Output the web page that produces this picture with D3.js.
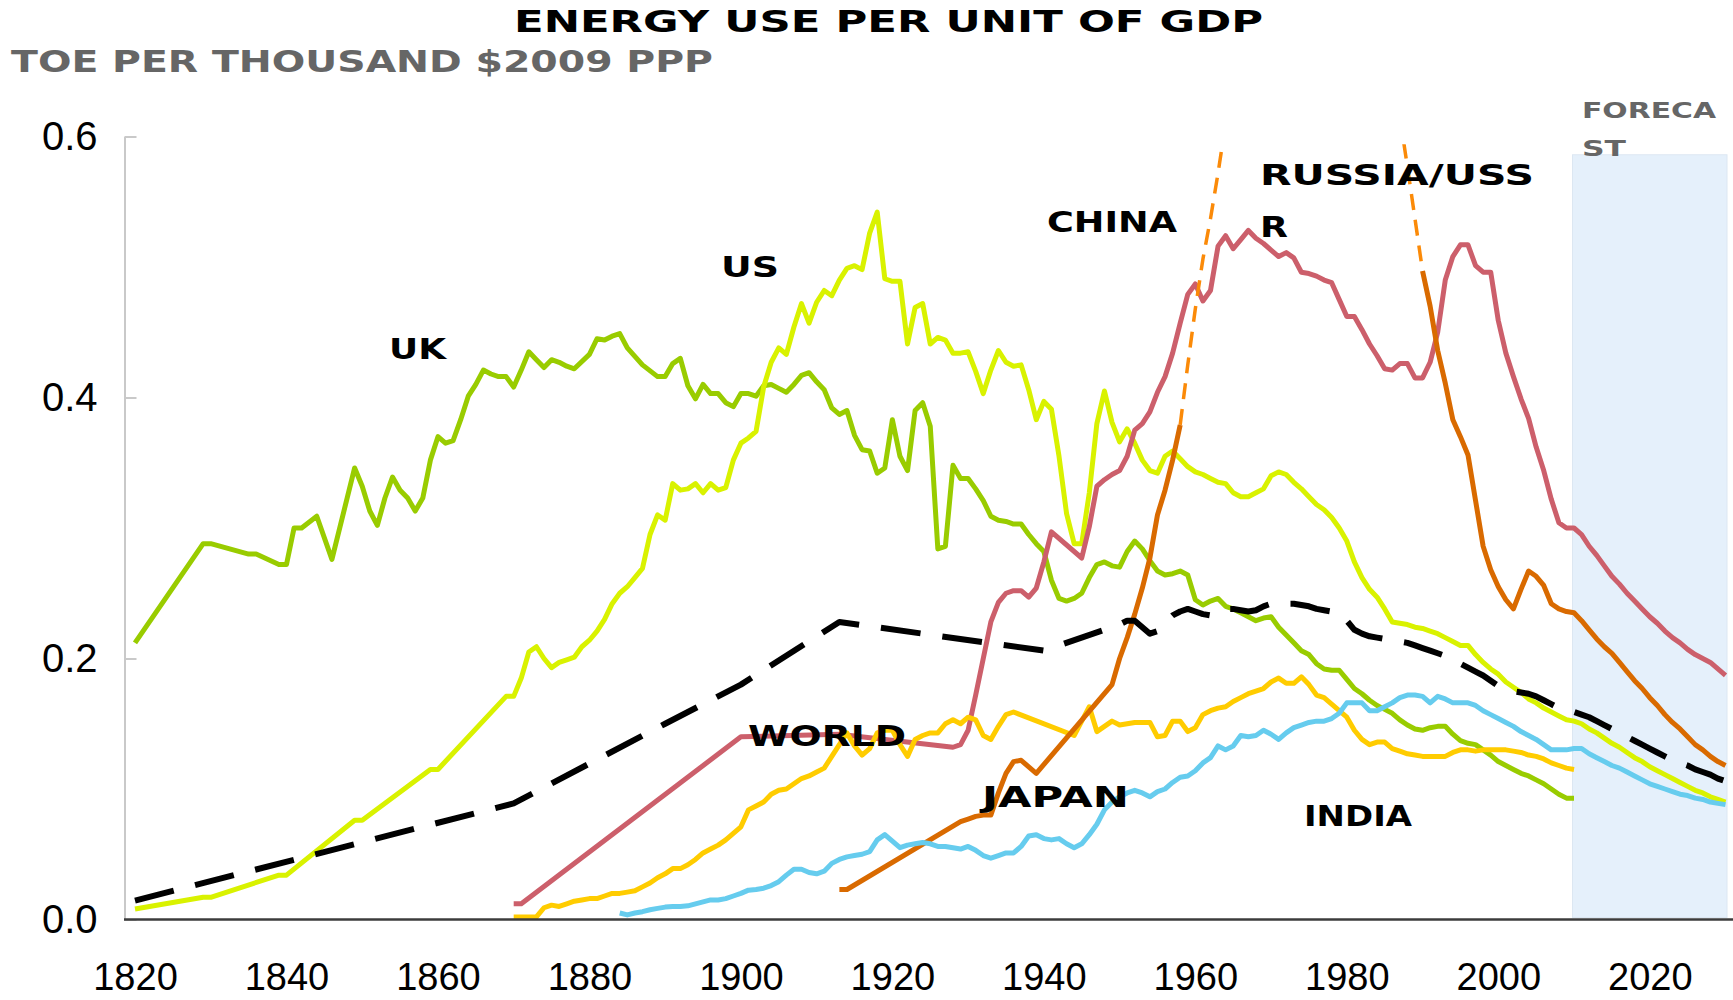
<!DOCTYPE html>
<html>
<head>
<meta charset="utf-8">
<title>Energy use per unit of GDP</title>
<script src="https://cdn.jsdelivr.net/npm/d3@7/dist/d3.min.js"></script>
<style>
  body { margin: 0; background: #fff; }
  .tick text { font-family: "Liberation Sans", Arial, sans-serif; font-size: 38px; fill: #000; }
  .block { font-family: "DejaVu Sans", sans-serif; font-weight: bold; }
</style>
</head>
<body>
<script>
// ---- data: [year, toe per thousand $2009 PPP] ----
const uk = [[1820,.212],[1829,.288],[1830,.288],[1835,.280],[1836,.280],[1839,.272],[1840,.272],[1841,.300],[1842,.300],[1844,.309],[1846,.276],[1849,.346],[1850,.332],[1851,.313],[1852,.302],[1853,.323],[1854,.339],[1855,.329],[1856,.323],[1857,.313],[1858,.323],[1859,.352],[1860,.370],[1861,.365],[1862,.367],[1863,.383],[1864,.401],[1865,.410],[1866,.421],[1867,.418],[1868,.416],[1869,.416],[1870,.408],[1871,.421],[1872,.435],[1873,.429],[1874,.423],[1875,.429],[1876,.427],[1877,.424],[1878,.422],[1880,.433],[1881,.445],[1882,.444],[1883,.447],[1884,.449],[1885,.438],[1887,.425],[1889,.416],[1890,.416],[1891,.426],[1892,.430],[1893,.409],[1894,.399],[1895,.410],[1896,.403],[1897,.403],[1898,.396],[1899,.393],[1900,.403],[1901,.403],[1902,.401],[1903,.409],[1904,.410],[1905,.407],[1906,.404],[1907,.410],[1908,.417],[1909,.419],[1910,.412],[1911,.406],[1912,.392],[1913,.387],[1914,.390],[1915,.371],[1916,.360],[1917,.359],[1918,.342],[1919,.346],[1920,.383],[1921,.355],[1922,.344],[1923,.390],[1924,.396],[1925,.378],[1926,.284],[1927,.286],[1928,.348],[1929,.338],[1930,.338],[1931,.330],[1932,.321],[1933,.309],[1934,.306],[1935,.305],[1936,.303],[1937,.303],[1938,.295],[1939,.288],[1940,.282],[1941,.260],[1942,.246],[1943,.244],[1944,.246],[1945,.250],[1946,.262],[1947,.272],[1948,.274],[1949,.271],[1950,.270],[1951,.282],[1952,.290],[1953,.284],[1954,.275],[1955,.267],[1956,.264],[1957,.265],[1958,.267],[1959,.264],[1960,.245],[1961,.241],[1962,.244],[1963,.246],[1964,.240],[1965,.238],[1966,.235],[1967,.232],[1968,.229],[1969,.231],[1970,.232],[1971,.224],[1972,.218],[1973,.212],[1974,.206],[1975,.203],[1976,.196],[1977,.192],[1978,.191],[1979,.191],[1980,.184],[1981,.177],[1982,.173],[1983,.168],[1984,.164],[1985,.161],[1986,.158],[1987,.153],[1988,.149],[1989,.146],[1990,.145],[1991,.147],[1992,.148],[1993,.148],[1994,.142],[1995,.137],[1996,.135],[1997,.134],[1998,.130],[1999,.126],[2000,.121],[2001,.118],[2002,.115],[2003,.112],[2004,.110],[2005,.107],[2006,.104],[2007,.100],[2008,.096],[2009,.093],[2010,.093]];

const us = [[1820,.008],[1829,.017],[1830,.017],[1839,.034],[1840,.034],[1849,.076],[1850,.076],[1859,.115],[1860,.115],[1869,.171],[1870,.171],[1871,.185],[1872,.205],[1873,.209],[1874,.200],[1875,.193],[1876,.197],[1877,.199],[1878,.201],[1879,.209],[1880,.214],[1881,.221],[1882,.230],[1883,.242],[1884,.250],[1885,.255],[1886,.262],[1887,.269],[1888,.295],[1889,.310],[1890,.306],[1891,.334],[1892,.329],[1893,.330],[1894,.334],[1895,.327],[1896,.334],[1897,.329],[1898,.331],[1899,.352],[1900,.365],[1901,.369],[1902,.374],[1903,.408],[1904,.427],[1905,.438],[1906,.433],[1907,.454],[1908,.472],[1909,.457],[1910,.473],[1911,.482],[1912,.478],[1913,.490],[1914,.499],[1915,.501],[1916,.498],[1917,.526],[1918,.542],[1919,.491],[1920,.489],[1921,.489],[1922,.441],[1923,.469],[1924,.472],[1925,.441],[1926,.446],[1927,.444],[1928,.434],[1929,.434],[1930,.435],[1931,.420],[1932,.403],[1933,.421],[1934,.436],[1935,.427],[1936,.424],[1937,.425],[1938,.406],[1939,.383],[1940,.397],[1941,.391],[1942,.355],[1943,.311],[1944,.288],[1945,.288],[1946,.327],[1947,.380],[1948,.405],[1949,.381],[1950,.366],[1951,.376],[1952,.365],[1953,.352],[1954,.344],[1955,.342],[1956,.355],[1957,.359],[1958,.353],[1959,.347],[1960,.343],[1961,.341],[1962,.338],[1963,.335],[1964,.334],[1965,.327],[1966,.324],[1967,.324],[1968,.327],[1969,.330],[1970,.340],[1971,.343],[1972,.341],[1973,.335],[1974,.330],[1975,.324],[1976,.318],[1977,.314],[1978,.308],[1979,.300],[1980,.290],[1981,.274],[1982,.262],[1983,.253],[1984,.247],[1985,.238],[1986,.228],[1987,.227],[1988,.226],[1989,.224],[1990,.223],[1991,.221],[1992,.219],[1993,.216],[1994,.213],[1995,.210],[1996,.210],[1997,.203],[1998,.197],[1999,.192],[2000,.188],[2001,.182],[2002,.178],[2003,.174],[2004,.169],[2005,.166],[2006,.162],[2007,.159],[2008,.156],[2009,.153],[2010,.152],[2011,.150],[2012,.146],[2013,.143],[2014,.139],[2015,.135],[2016,.132],[2017,.128],[2018,.124],[2019,.121],[2020,.117],[2021,.114],[2022,.111],[2023,.108],[2024,.105],[2025,.102],[2026,.099],[2027,.097],[2028,.094],[2029,.092],[2030,.090]];

const russia = [[1870,.012],[1871,.012],[1900,.140],[1913,.142],[1928,.132],[1929,.134],[1930,.145],[1931,.172],[1932,.200],[1933,.228],[1934,.243],[1935,.250],[1936,.252],[1937,.252],[1938,.247],[1939,.254],[1940,.274],[1941,.297],[1945,.277],[1946,.301],[1947,.332],[1948,.337],[1949,.341],[1950,.344],[1951,.355],[1952,.375],[1953,.380],[1954,.389],[1955,.404],[1956,.416],[1957,.434],[1958,.457],[1959,.479],[1960,.487],[1961,.474],[1962,.482],[1963,.516],[1964,.524],[1965,.514],[1966,.521],[1967,.528],[1968,.522],[1969,.518],[1970,.513],[1971,.508],[1972,.511],[1973,.507],[1974,.496],[1975,.495],[1976,.493],[1977,.490],[1978,.488],[1979,.475],[1980,.462],[1981,.462],[1982,.452],[1983,.441],[1984,.432],[1985,.422],[1986,.421],[1987,.426],[1988,.426],[1989,.415],[1990,.415],[1991,.427],[1992,.450],[1993,.490],[1994,.508],[1995,.517],[1996,.517],[1997,.501],[1998,.496],[1999,.496],[2000,.459],[2001,.434],[2002,.416],[2003,.399],[2004,.384],[2005,.362],[2006,.344],[2007,.322],[2008,.304],[2009,.300],[2010,.300],[2011,.295],[2012,.286],[2013,.279],[2014,.271],[2015,.263],[2016,.257],[2017,.250],[2018,.244],[2019,.238],[2020,.232],[2021,.227],[2022,.221],[2023,.216],[2024,.212],[2025,.207],[2026,.203],[2027,.200],[2028,.197],[2029,.192],[2030,.187]];

const chinaEarly = [[1913,.023],[1914,.023],[1929,.075],[1930,.077],[1931,.079],[1932,.080],[1933,.080],[1934,.097],[1935,.112],[1936,.121],[1937,.122],[1938,.117],[1939,.112],[1949,.180],[1950,.200],[1951,.216],[1952,.234],[1953,.254],[1954,.277],[1955,.310],[1956,.329],[1957,.352],[1958,.379]];
const chinaLeap = [[1958,.379],[1959,.425],[1960,.468],[1961,.506],[1962,.537],[1963,.572],[1964,.610]];
const chinaReturn = [[1987,.615],[1988,.577],[1989,.537],[1990,.497]];
const chinaLate = [[1990,.497],[1991,.470],[1992,.436],[1993,.411],[1994,.383],[1995,.370],[1996,.356],[1997,.321],[1998,.286],[1999,.268],[2000,.255],[2001,.245],[2002,.238],[2003,.253],[2004,.267],[2005,.263],[2006,.256],[2007,.242],[2008,.238],[2009,.236],[2010,.235],[2011,.229],[2012,.222],[2013,.215],[2014,.209],[2015,.204],[2016,.197],[2017,.190],[2018,.183],[2019,.177],[2020,.170],[2021,.164],[2022,.157],[2023,.151],[2024,.146],[2025,.140],[2026,.134],[2027,.130],[2028,.125],[2029,.121],[2030,.118]];

const japan = [[1870,.002],[1873,.002],[1874,.009],[1875,.011],[1876,.010],[1877,.012],[1878,.014],[1879,.015],[1880,.016],[1881,.016],[1882,.018],[1883,.020],[1884,.020],[1885,.021],[1886,.022],[1887,.025],[1888,.028],[1889,.032],[1890,.035],[1891,.039],[1892,.039],[1893,.042],[1894,.046],[1895,.051],[1896,.054],[1897,.057],[1898,.061],[1899,.066],[1900,.071],[1901,.084],[1902,.087],[1903,.090],[1904,.096],[1905,.099],[1906,.100],[1907,.104],[1908,.108],[1909,.110],[1910,.113],[1911,.116],[1912,.125],[1913,.134],[1914,.143],[1915,.133],[1916,.126],[1917,.131],[1918,.143],[1919,.145],[1920,.145],[1921,.134],[1922,.125],[1923,.138],[1924,.141],[1925,.143],[1926,.143],[1927,.150],[1928,.153],[1929,.150],[1930,.155],[1931,.153],[1932,.141],[1933,.138],[1934,.148],[1935,.157],[1936,.159],[1944,.141],[1945,.152],[1946,.163],[1947,.144],[1948,.148],[1949,.152],[1950,.149],[1951,.150],[1952,.151],[1953,.151],[1954,.151],[1955,.140],[1956,.141],[1957,.152],[1958,.152],[1959,.144],[1960,.147],[1961,.157],[1962,.160],[1963,.162],[1964,.163],[1965,.167],[1966,.170],[1967,.173],[1968,.175],[1969,.177],[1970,.182],[1971,.185],[1972,.181],[1973,.181],[1974,.186],[1975,.180],[1976,.172],[1977,.170],[1978,.165],[1979,.160],[1980,.155],[1981,.145],[1982,.138],[1983,.134],[1984,.136],[1985,.136],[1986,.131],[1987,.129],[1988,.127],[1989,.126],[1990,.125],[1991,.125],[1992,.125],[1993,.125],[1994,.128],[1995,.130],[1996,.130],[1997,.129],[1998,.130],[1999,.130],[2000,.130],[2001,.130],[2002,.129],[2003,.128],[2004,.126],[2005,.125],[2006,.123],[2007,.120],[2008,.118],[2009,.116],[2010,.115]];

const india = [[1884,.005],[1885,.0035],[1886,.005],[1887,.006],[1888,.0075],[1889,.0085],[1890,.0095],[1891,.010],[1892,.010],[1893,.0105],[1894,.012],[1895,.0135],[1896,.015],[1897,.015],[1898,.016],[1899,.018],[1900,.020],[1901,.0225],[1902,.023],[1903,.024],[1904,.026],[1905,.029],[1906,.034],[1907,.0385],[1908,.0385],[1909,.036],[1910,.035],[1911,.037],[1912,.043],[1913,.046],[1914,.048],[1915,.049],[1916,.050],[1917,.052],[1918,.061],[1919,.065],[1920,.060],[1921,.055],[1922,.057],[1923,.058],[1924,.059],[1925,.058],[1926,.056],[1927,.056],[1928,.055],[1929,.054],[1930,.056],[1931,.053],[1932,.049],[1933,.047],[1934,.049],[1935,.051],[1936,.051],[1937,.056],[1938,.064],[1939,.065],[1940,.062],[1941,.061],[1942,.062],[1943,.058],[1944,.055],[1945,.058],[1946,.065],[1947,.073],[1948,.084],[1949,.090],[1950,.094],[1951,.097],[1952,.099],[1953,.097],[1954,.094],[1955,.098],[1956,.100],[1957,.105],[1958,.109],[1959,.110],[1960,.114],[1961,.120],[1962,.124],[1963,.133],[1964,.130],[1965,.133],[1966,.141],[1967,.140],[1968,.141],[1969,.145],[1970,.142],[1971,.138],[1972,.143],[1973,.147],[1974,.149],[1975,.151],[1976,.152],[1977,.152],[1978,.154],[1979,.158],[1980,.166],[1981,.166],[1982,.166],[1983,.160],[1984,.160],[1985,.163],[1986,.166],[1987,.170],[1988,.172],[1989,.172],[1990,.171],[1991,.166],[1992,.171],[1993,.169],[1994,.166],[1995,.166],[1996,.166],[1997,.164],[1998,.160],[1999,.157],[2000,.154],[2001,.151],[2002,.148],[2003,.144],[2004,.141],[2005,.138],[2006,.134],[2007,.130],[2008,.130],[2009,.130],[2010,.131],[2011,.131],[2012,.127],[2013,.124],[2014,.121],[2015,.118],[2016,.116],[2017,.113],[2018,.110],[2019,.107],[2020,.104],[2021,.102],[2022,.100],[2023,.098],[2024,.096],[2025,.095],[2026,.093],[2027,.092],[2028,.090],[2029,.089],[2030,.088]];

const world = [[1820,.0145],[1870,.089],[1890,.150],[1900,.180],[1913,.228],[1940,.206],[1950,.226],[1951,.229],[1952,.229],[1953,.224],[1954,.219],[1955,.221],[1956,.228],[1957,.233],[1958,.236],[1959,.238],[1960,.236],[1961,.234],[1962,.233],[1963,.235],[1964,.238],[1965,.238],[1966,.237],[1967,.236],[1968,.237],[1969,.240],[1970,.242],[1971,.242],[1972,.242],[1973,.242],[1974,.241],[1975,.240],[1976,.238],[1977,.237],[1978,.236],[1979,.235],[1980,.229],[1981,.222],[1982,.219],[1983,.217],[1984,.216],[1985,.215],[1986,.214],[1987,.213],[1988,.212],[1989,.210],[1990,.208],[1991,.206],[1992,.204],[1993,.202],[1994,.199],[1995,.196],[1996,.193],[1997,.190],[1998,.187],[1999,.183],[2000,.179],[2001,.176],[2002,.175],[2003,.174],[2004,.173],[2005,.171],[2006,.168],[2007,.165],[2008,.162],[2009,.160],[2010,.159],[2011,.157],[2012,.155],[2013,.152],[2014,.149],[2015,.146],[2016,.143],[2017,.140],[2018,.137],[2019,.134],[2020,.131],[2021,.128],[2022,.125],[2023,.122],[2024,.120],[2025,.118],[2026,.115],[2027,.113],[2028,.111],[2029,.108],[2030,.106]];

const xTicks = [1820, 1840, 1860, 1880, 1900, 1920, 1940, 1960, 1980, 2000, 2020];
const yTicks = [0, 0.2, 0.4, 0.6];
const forecastSpan = [2009.8, 2030.2];
const forecastTop = 0.586;

// ---- layout ----
const W = 1733, H = 1000;
const svg = d3.select("body").append("svg").attr("width", W).attr("height", H);

const x = d3.scaleLinear().domain([1820, 2030]).range([135, 1725.5]);
const y = d3.scaleLinear().domain([0, 0.6]).range([919.5, 136.5]);

// forecast shading
svg.append("rect")
  .attr("x", x(forecastSpan[0])).attr("width", x(forecastSpan[1]) - x(forecastSpan[0]))
  .attr("y", y(forecastTop)).attr("height", y(0) - y(forecastTop) - 2)
  .attr("fill", "#e5f0fb").attr("stroke", "#dce7f2").attr("stroke-width", 1);

// y axis (ticks point inward)
const yAxis = svg.append("g").attr("transform", "translate(124.5,0)")
  .call(d3.axisLeft(y).tickValues(yTicks).tickSizeInner(-12).tickSizeOuter(0)
    .tickPadding(27).tickFormat(d3.format(".1f")));
yAxis.select(".domain").attr("stroke", "#c9c9c9").attr("stroke-width", 2);
yAxis.selectAll(".tick line").attr("stroke", "#c9c9c9").attr("stroke-width", 2);
yAxis.selectAll(".tick text").style("font-size", "40px");

// x axis
const xAxis = svg.append("g").attr("transform", `translate(0,${y(0)})`)
  .call(d3.axisBottom(x).tickValues(xTicks).tickSize(0).tickPadding(44).tickFormat(d3.format("d")));
xAxis.select(".domain").remove();

// clip for lines running off the top
svg.append("clipPath").attr("id", "plot")
  .append("rect").attr("x", 120).attr("y", y(0.594)).attr("width", W - 120).attr("height", y(0) - y(0.594) + 6);

const line = d3.line().x(d => x(d[0])).y(d => y(d[1]));
const lines = svg.append("g").attr("clip-path", "url(#plot)")
  .attr("fill", "none").attr("stroke-linejoin", "round");

const series = [
  { data: uk, color: "#99cc00", w: 5 },
  { data: us, color: "#d9f200", w: 5 },
  { data: russia, color: "#cc5f6b", w: 5 },
  { data: japan, color: "#ffcc00", w: 5 },
  { data: chinaLeap, color: "#fb8a08", w: 3.5, dash: "16,10" },
  { data: chinaReturn, color: "#fb8a08", w: 3.5, dash: "16,10" },
  { data: chinaEarly, color: "#d96a00", w: 5 },
  { data: chinaLate, color: "#d96a00", w: 5 },
  { data: india, color: "#66ccee", w: 5 },
  { data: world, color: "#000000", w: 6, dash: "40,22" }
];

series.forEach(s => {
  lines.append("path").datum(s.data)
    .attr("d", line)
    .attr("stroke", s.color)
    .attr("stroke-width", s.w)
    .attr("stroke-dasharray", s.dash || null);
});

// x axis line drawn over the data
svg.append("line")
  .attr("x1", 124).attr("x2", W).attr("y1", y(0)).attr("y2", y(0))
  .attr("stroke", "#3c3c3c").attr("stroke-width", 2.5);

// ---- text ----
const texts = [
  { t: "ENERGY USE PER UNIT OF GDP", x: 514, y: 32, len: 749, size: 30, fill: "#000" },
  { t: "TOE PER THOUSAND $2009 PPP", x: 11, y: 72, len: 702, size: 30, fill: "#666" },
  { t: "UK", x: 389, y: 359, len: 57, size: 29, fill: "#000" },
  { t: "US", x: 721, y: 277, len: 58, size: 29, fill: "#000" },
  { t: "CHINA", x: 1047, y: 232, len: 130, size: 29, fill: "#000" },
  { t: "RUSSIA/USS", x: 1260, y: 185, len: 274, size: 29, fill: "#000" },
  { t: "R", x: 1260, y: 237, len: 28, size: 29, fill: "#000" },
  { t: "WORLD", x: 748, y: 746, len: 158, size: 29, fill: "#000" },
  { t: "JAPAN", x: 982, y: 807, len: 147, size: 29, fill: "#000" },
  { t: "INDIA", x: 1304, y: 826, len: 108, size: 29, fill: "#000" },
  { t: "FORECA", x: 1582, y: 118, len: 134, size: 21, fill: "#666" },
  { t: "ST", x: 1582, y: 156, len: 44, size: 21, fill: "#666" }
];

svg.append("g").selectAll("text").data(texts).join("text")
  .attr("class", "block")
  .attr("x", d => d.x).attr("y", d => d.y)
  .attr("font-size", d => d.size)
  .attr("fill", d => d.fill)
  .attr("textLength", d => d.len)
  .attr("lengthAdjust", "spacingAndGlyphs")
  .text(d => d.t);
</script>
</body>
</html>
